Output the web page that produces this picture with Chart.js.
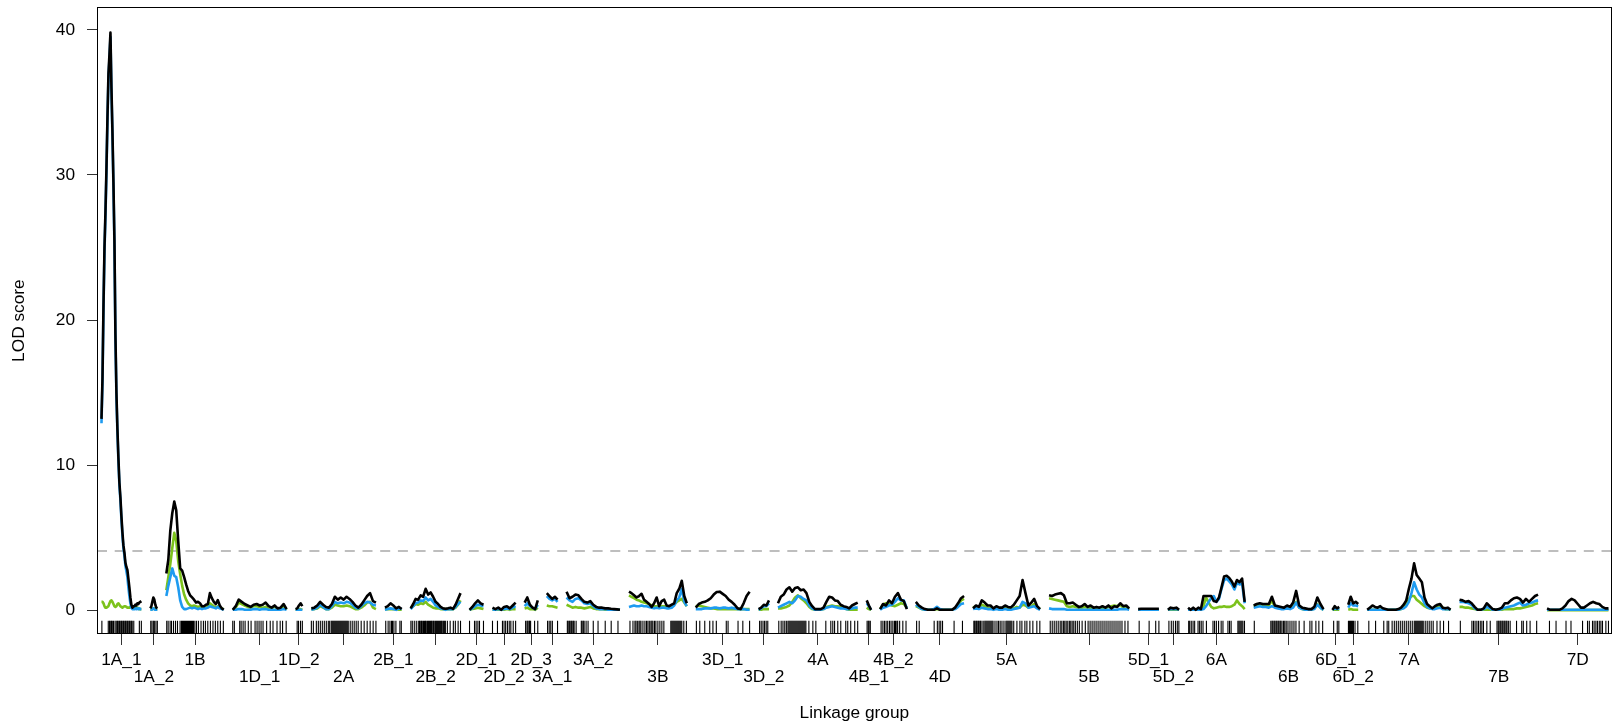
<!DOCTYPE html>
<html>
<head>
<meta charset="utf-8">
<title>LOD profile</title>
<script src="https://cdn.jsdelivr.net/npm/chart.js@4.4.1/dist/chart.umd.min.js"></script>
<style>
  html, body { margin: 0; padding: 0; background: #fff; }
  canvas { display: block; }
</style>
</head>
<body>
<canvas id="lodChart" width="1619" height="727"></canvas>
<script>
// Linkage groups in map order, with their lengths (cM)
const chromNames = ['1A_1', '1A_2', '1B', '1D_1', '1D_2', '2A', '2B_1', '2B_2', '2D_1', '2D_2', '2D_3',
  '3A_1', '3A_2', '3B', '3D_1', '3D_2', '4A', '4B_1', '4B_2', '4D', '5A', '5B', '5D_1', '5D_2',
  '6A', '6B', '6D_1', '6D_2', '7A', '7B', '7D'];
const chromLengths = [100, 17.5, 144, 135, 17, 162, 42, 125, 35, 58, 33, 27, 134, 145, 135, 26,
  200, 11, 67, 121, 168, 201, 52, 28, 142, 175, 17, 25, 209, 197, 154];
const CHROM_GAP = 22.6;

// LOD scans, evenly spaced along each linkage group
const lodBlack = [
  [13.2,16,21,25,27.5,30.5,34,37,38.3,39.8,36,33,29.5,25.5,19,15,12.5,10.5,8.8,7.8,6.5,5.4,4.5,4.0,3.3,3.0,2.8,2.2,1.6,0.9,0.4,0.2,0.3,0.3,0.4,0.35,0.5,0.45,0.55,0.6,0.65],
  [0.15,0.3,0.6,0.9,0.75,0.4,0.2,0.15],
  [2.55,3.5,5.5,6.7,7.5,6.9,4.8,2.9,2.75,2.3,1.8,1.35,1.05,0.9,0.75,0.55,0.6,0.5,0.3,0.3,0.4,0.45,1.2,0.85,0.6,0.45,0.72,0.35,0.15,0.05],
  [0.05,0.3,0.75,0.6,0.45,0.35,0.25,0.4,0.45,0.35,0.4,0.55,0.3,0.2,0.35,0.15,0.2,0.45,0.1],
  [0.1,0.15,0.35,0.5,0.3],
  [0.15,0.2,0.35,0.6,0.4,0.25,0.2,0.45,0.95,0.75,0.9,0.75,0.95,0.8,0.6,0.35,0.2,0.4,0.7,1.0,1.2,0.65,0.55],
  [0.2,0.3,0.5,0.35,0.15,0.25,0.1],
  [0.15,0.45,0.8,0.75,1.05,0.95,1.5,1.1,1.25,0.95,0.6,0.45,0.25,0.15,0.12,0.15,0.2,0.12,0.4,0.8,1.2],
  [0.05,0.25,0.5,0.7,0.5,0.4],
  [0.2,0.1,0.2,0.05,0.25,0.3,0.15,0.35,0.55],
  [0.55,0.9,0.4,0.2,0.1,0.7],
  [1.2,1.0,0.8,0.95,0.75],
  [1.3,0.85,0.95,1.1,1.05,0.8,0.6,0.55,0.65,0.4,0.25,0.2,0.2,0.15,0.15,0.12,0.1,0.08,0.05],
  [1.3,1.2,1.05,0.9,1.0,1.15,0.75,0.6,0.45,0.25,0.5,0.9,0.3,0.65,0.75,0.35,0.3,0.4,0.5,1.2,1.5,2.05,1.0,0.5],
  [0.2,0.45,0.55,0.6,0.7,0.85,1.1,1.28,1.3,1.15,1.0,0.75,0.6,0.4,0.15,0.1,0.5,1.0,1.3],
  [0.1,0.2,0.4,0.35,0.7],
  [0.5,0.95,1.1,1.45,1.6,1.3,1.55,1.6,1.4,1.45,1.2,0.6,0.3,0.1,0.1,0.1,0.2,0.6,0.95,0.9,0.7,0.65,0.4,0.3,0.25,0.15,0.35,0.45,0.55],
  [0.7,0.35,0.05],
  [0.1,0.45,0.35,0.7,0.5,0.95,1.2,0.75,0.65,0.1],
  [0.6,0.35,0.2,0.1,0.05,0.05,0.05,0.15,0.05,0.05,0.05,0.05,0.05,0.2,0.5,0.85,1.0],
  [0.15,0.35,0.25,0.7,0.55,0.35,0.35,0.15,0.3,0.2,0.2,0.35,0.25,0.22,0.4,0.7,1.0,2.1,1.2,0.35,0.55,0.8,0.3,0.1],
  [1.05,1.0,1.1,1.15,1.2,1.05,0.5,0.5,0.55,0.4,0.25,0.3,0.45,0.25,0.35,0.2,0.25,0.2,0.3,0.2,0.35,0.15,0.3,0.25,0.5,0.3,0.35,0.15],
  [0.1,0.12,0.12,0.12,0.12,0.12,0.12,0.12],
  [0.05,0.2,0.15,0.2,0.05],
  [0.2,0.05,0.2,0.05,0.2,0.1,1.0,1.0,1.0,1.0,0.65,0.6,0.9,1.6,2.35,2.4,2.25,2.0,1.65,2.1,1.95,2.2,0.6],
  [0.35,0.45,0.5,0.45,0.45,0.45,0.95,0.35,0.3,0.25,0.2,0.35,0.25,0.55,1.35,0.35,0.2,0.15,0.1,0.1,0.25,0.9,0.45,0.1],
  [0.05,0.3,0.15,0.25],
  [0.4,0.95,0.5,0.6,0.45],
  [0.05,0.2,0.35,0.25,0.2,0.3,0.15,0.1,0.05,0.05,0.05,0.05,0.1,0.2,0.4,0.7,1.5,2.2,3.25,2.45,2.2,1.95,0.9,0.45,0.3,0.15,0.3,0.4,0.45,0.2,0.15,0.2,0.05],
  [0.75,0.7,0.6,0.65,0.5,0.25,0.05,0.05,0.15,0.5,0.3,0.1,0.05,0.1,0.2,0.5,0.5,0.7,0.85,0.9,0.8,0.55,0.8,0.6,0.8,1.0,1.1],
  [0.15,0.05,0.05,0.05,0.05,0.15,0.35,0.65,0.8,0.7,0.45,0.2,0.2,0.35,0.5,0.6,0.5,0.45,0.25,0.15,0.15]
];

const lodBlue = [
  [12.9,15.7,20.7,24.7,27.2,30.2,33.7,36.7,38,39.5,35.7,32.7,29.2,25.2,18.7,14.7,12.3,10.3,8.6,7.6,6.3,5.2,4.3,3.8,3.1,2.7,2.3,1.6,1.0,0.5,0.2,0.1,0.1,0.1,0.15,0.1,0.15,0.1,0.15,0.1,0.1],
  [0.05,0.05,0.1,0.15,0.1,0.05,0.05,0.05],
  [1.0,1.7,2.3,2.9,2.4,2.3,1.6,0.7,0.25,0.1,0.1,0.15,0.2,0.15,0.2,0.15,0.1,0.15,0.1,0.15,0.15,0.2,0.3,0.25,0.2,0.15,0.25,0.15,0.1,0.05],
  [0.05,0.05,0.1,0.1,0.05,0.05,0.05,0.1,0.1,0.05,0.1,0.1,0.05,0.05,0.05,0.05,0.05,0.1,0.05],
  [0.05,0.05,0.05,0.05,0.05],
  [0.05,0.1,0.2,0.4,0.25,0.1,0.1,0.3,0.6,0.5,0.55,0.5,0.6,0.55,0.4,0.2,0.15,0.3,0.5,0.6,0.55,0.4,0.35],
  [0.05,0.1,0.15,0.1,0.05,0.15,0.1],
  [0.1,0.3,0.5,0.55,0.7,0.65,0.9,0.7,0.8,0.6,0.35,0.25,0.15,0.1,0.05,0.1,0.1,0.1,0.25,0.45,0.6],
  [0.05,0.15,0.3,0.4,0.35,0.3],
  [0.05,0.05,0.1,0.05,0.1,0.15,0.1,0.2,0.3],
  [0.3,0.5,0.3,0.2,0.1,0.4],
  [1.0,0.8,0.7,0.8,0.6],
  [0.9,0.7,0.6,0.8,0.85,0.7,0.5,0.45,0.5,0.3,0.15,0.1,0.1,0.1,0.05,0.05,0.05,0.05,0.05],
  [0.25,0.3,0.35,0.3,0.3,0.35,0.3,0.3,0.25,0.2,0.15,0.2,0.15,0.2,0.2,0.15,0.15,0.2,0.35,0.7,0.9,1.5,0.6,0.3],
  [0.1,0.1,0.1,0.15,0.15,0.15,0.2,0.2,0.15,0.2,0.2,0.15,0.2,0.15,0.1,0.1,0.1,0.05,0.05],
  [0.05,0.15,0.3,0.3,0.5],
  [0.2,0.3,0.4,0.5,0.6,0.5,0.7,1.0,0.95,0.8,0.7,0.35,0.15,0.05,0.05,0.05,0.1,0.2,0.25,0.3,0.25,0.2,0.15,0.15,0.1,0.1,0.15,0.2,0.2],
  [0.5,0.3,0.05],
  [0.05,0.2,0.25,0.35,0.4,0.6,0.85,0.7,0.7,0.15],
  [0.4,0.25,0.1,0.05,0.05,0.05,0.1,0.25,0.1,0.05,0.05,0.05,0.05,0.1,0.25,0.45,0.5],
  [0.1,0.15,0.1,0.2,0.15,0.1,0.1,0.05,0.1,0.05,0.05,0.1,0.05,0.05,0.1,0.15,0.2,0.6,0.5,0.2,0.25,0.3,0.15,0.05],
  [0.15,0.1,0.1,0.1,0.1,0.1,0.05,0.05,0.05,0.05,0.05,0.05,0.05,0.05,0.05,0.05,0.05,0.05,0.05,0.05,0.05,0.05,0.05,0.05,0.1,0.1,0.1,0.05],
  [0.05,0.05,0.05,0.05,0.05,0.05,0.05,0.05],
  [0.05,0.1,0.1,0.1,0.05],
  [0.05,0.05,0.05,0.05,0.05,0.05,0.1,0.3,0.6,0.85,1.0,0.6,0.8,1.5,2.1,2.2,2.0,1.8,1.45,1.9,1.8,1.85,0.5],
  [0.2,0.25,0.3,0.25,0.25,0.2,0.3,0.2,0.15,0.1,0.1,0.15,0.1,0.2,0.55,0.2,0.1,0.05,0.05,0.05,0.1,0.4,0.2,0.05],
  [0.05,0.15,0.1,0.15],
  [0.2,0.5,0.35,0.35,0.3],
  [0.05,0.05,0.05,0.05,0.05,0.05,0.05,0.05,0.05,0.05,0.05,0.05,0.05,0.1,0.15,0.3,0.6,1.2,1.95,1.45,1.1,0.9,0.5,0.25,0.15,0.1,0.1,0.15,0.2,0.1,0.1,0.1,0.05],
  [0.6,0.6,0.55,0.5,0.4,0.15,0.05,0.05,0.1,0.25,0.15,0.05,0.05,0.05,0.1,0.2,0.25,0.3,0.35,0.45,0.55,0.35,0.4,0.5,0.55,0.65,0.7],
  [0.05,0.05,0.05,0.05,0.05,0.05,0.05,0.05,0.05,0.05,0.05,0.05,0.05,0.05,0.05,0.05,0.05,0.05,0.05,0.05,0.05]
];

const lodGreen = [
  [0.6,0.6,0.5,0.3,0.2,0.2,0.25,0.3,0.5,0.65,0.7,0.6,0.45,0.3,0.25,0.3,0.45,0.5,0.4,0.3,0.25,0.2,0.25,0.3,0.3,0.25,0.2,0.2,0.2,0.25,0.3,0.3,0.3,0.3,0.25,0.2,0.2,0.15,0.1,0.1,0.1],
  [0.1,0.1,0.1,0.15,0.15,0.1,0.1,0.1],
  [1.4,2.3,3.2,4.3,5.35,4.8,3.4,2.5,1.7,1.1,0.75,0.5,0.35,0.3,0.35,0.3,0.25,0.3,0.2,0.25,0.2,0.3,0.5,0.4,0.3,0.2,0.3,0.2,0.15,0.1],
  [0.05,0.2,0.55,0.45,0.35,0.25,0.2,0.3,0.3,0.25,0.2,0.25,0.1,0.15,0.3,0.1,0.15,0.35,0.05],
  [0.05,0.05,0.1,0.1,0.05],
  [0.1,0.1,0.15,0.3,0.2,0.1,0.1,0.2,0.4,0.35,0.3,0.3,0.35,0.3,0.2,0.1,0.1,0.2,0.35,0.55,0.6,0.2,0.1],
  [0.1,0.1,0.1,0.1,0.1,0.05,0.05],
  [0.2,0.3,0.45,0.4,0.5,0.45,0.6,0.4,0.3,0.2,0.15,0.15,0.1,0.1,0.1,0.1,0.1,0.1,0.2,0.4,0.7],
  [0.05,0.1,0.15,0.2,0.15,0.1],
  [0.05,0.05,0.05,0.05,0.05,0.1,0.05,0.1,0.1],
  [0.15,0.2,0.1,0.1,0.05,0.2],
  [0.35,0.3,0.3,0.25,0.2],
  [0.4,0.3,0.2,0.25,0.2,0.2,0.15,0.2,0.25,0.15,0.1,0.1,0.1,0.05,0.05,0.05,0.05,0.05,0.05],
  [1.05,0.95,0.85,0.75,0.7,0.6,0.55,0.5,0.45,0.35,0.3,0.3,0.25,0.3,0.3,0.2,0.25,0.3,0.4,0.6,0.7,0.8,0.55,0.3],
  [0.3,0.35,0.3,0.25,0.2,0.15,0.15,0.1,0.1,0.1,0.1,0.1,0.1,0.1,0.1,0.1,0.1,0.1,0.1],
  [0.05,0.05,0.1,0.1,0.1],
  [0.15,0.15,0.2,0.25,0.35,0.6,0.9,1.05,0.85,0.7,0.5,0.25,0.1,0.05,0.05,0.05,0.1,0.25,0.3,0.35,0.3,0.3,0.25,0.2,0.1,0.05,0.05,0.05,0.05],
  [0.2,0.1,0.05],
  [0.1,0.4,0.5,0.45,0.35,0.3,0.4,0.5,0.45,0.2],
  [0.3,0.2,0.1,0.05,0.05,0.05,0.05,0.1,0.05,0.05,0.05,0.05,0.05,0.15,0.4,0.7,0.8],
  [0.2,0.3,0.2,0.4,0.3,0.2,0.15,0.1,0.15,0.1,0.1,0.15,0.1,0.1,0.15,0.25,0.2,0.4,0.35,0.2,0.3,0.45,0.25,0.1],
  [0.85,0.8,0.75,0.7,0.65,0.6,0.3,0.25,0.3,0.25,0.2,0.2,0.25,0.2,0.2,0.15,0.2,0.15,0.2,0.15,0.25,0.3,0.35,0.3,0.4,0.2,0.2,0.1],
  [0.05,0.05,0.05,0.05,0.05,0.05,0.05,0.05],
  [0.05,0.05,0.05,0.05,0.05],
  [0.05,0.05,0.05,0.05,0.05,0.05,0.3,0.9,0.55,0.25,0.15,0.2,0.25,0.25,0.3,0.25,0.25,0.3,0.4,0.7,0.45,0.3,0.1],
  [0.3,0.35,0.35,0.35,0.35,0.35,0.7,0.25,0.2,0.15,0.15,0.2,0.15,0.35,0.6,0.2,0.1,0.05,0.05,0.05,0.15,0.45,0.2,0.05],
  [0.05,0.05,0.05,0.05],
  [0.05,0.1,0.05,0.05,0.05],
  [0.05,0.05,0.05,0.05,0.05,0.05,0.05,0.05,0.05,0.05,0.05,0.05,0.05,0.1,0.2,0.4,0.8,1.0,1.0,0.75,0.6,0.45,0.3,0.2,0.15,0.15,0.2,0.3,0.35,0.2,0.1,0.1,0.05],
  [0.25,0.25,0.2,0.2,0.15,0.1,0.05,0.05,0.05,0.05,0.05,0.05,0.05,0.05,0.05,0.1,0.1,0.1,0.1,0.15,0.15,0.2,0.25,0.3,0.35,0.45,0.5],
  [0.03,0.03,0.03,0.03,0.03,0.03,0.03,0.03,0.03,0.03,0.03,0.03,0.03,0.03,0.03,0.03,0.03,0.03,0.03,0.03,0.03]
];

// Marker positions (cM from the start of each linkage group)
const markerOffsets = [
  [1,17,20,22,25,27,30,34,37,40,42,45,47,50,52,55,57,60,62,65,67,70,72,75,77,81,95,100],
  [1,4,7.5,10,14,17.5],
  [1,4.5,9.5,13,18,23,28,34.5,38,40.5,43,45.5,48,50.5,53,55.5,58,60.5,63,65.5,68,71.5,75.5,80.5,87,93,98,104,110.5,117,123,129,135.5,143],
  [0,4,17.5,21,26,31,39,46,56,61,66,71,76,85,94,101,111,119,125,134],
  [4,7.5,12.5,17],
  [0,5,12.5,17.5,22.5,27.5,32.5,37.5,42.5,46,50,52.5,55,57.5,60,62.5,65,67.5,70,72.5,75,77.5,80,82.5,85,87.5,90,92.5,97.5,102.5,107.5,112.5,117.5,125,132.5,140,147.5,155,162],
  [2,8,12.5,16.5,19,22.5,27.5,37.5,41],
  [0.5,4,9,14,19,22,24,27,29,32,34.5,37,39,42,44.5,47,49.5,52,54,57,59,62,64.5,67,69.5,72,74.5,77,79,82,84.5,87,92,99,107,112,119,125],
  [0,12.5,16.5,21,25,35],
  [0,12.5,25,29,33,37.5,42,46,52,58],
  [2.5,6,8,11,12.5,15,25,33],
  [2,6,10,14,27],
  [2,4,7,9,12,14,17,19,24,37,39,42,44,49,54,67,79,97,112,129],
  [2.5,10,15,17.5,21,25,27.5,30,35,40,44,47.5,51,55,57.5,60,64,67.5,72.5,77.5,82.5,87.5,105,107.5,110,112.5,115,117.5,120,122.5,125,127.5,130,132.5,137.5,144],
  [1.5,10,22.5,35,43,51.5,76.5,81,106,118,135],
  [2.5,6.5,11,15,19,23],
  [2,8,12.5,17,21,25,27.5,30,32.5,35,37.5,40,42.5,45,47.5,50,52.5,55,57.5,60,62.5,65,67.5,70,77.5,87.5,95,120,132.5,137.5,142,150,157.5,170,175,182.5,192.5,200],
  [1,4,6,9],
  [2.5,7,11,15,19,23.5,27.5,32,36,38.5,42,44,49,57,65],
  [2,8.5,46,54,58.5,62.5,67,96,117],
  [2,4,7,9,12,14,17,19,22.5,27,30,32.5,35,37.5,40,42.5,45,47.5,50,55,60,64,68,72.5,77.5,82.5,85,87.5,90,92.5,95,97.5,102,110,117.5,122.5,130,135,142.5,150,160,167.5],
  [3,8,13,18,23,28,32,36,39.5,43,47,51,54.5,58,62,66,71,76,83,91,98,103,108,113,118,123,128,133,138,143,148,153,158,163,168,173,178,183,190.5,198],
  [2.5,27.5,44,52],
  [2.5,8.5,13.5,19,23.5,27.5],
  [1.5,4,8,12.5,16.5,25,29,33,37.5,46,62.5,66.5,71,76.5,83,87.5,100,104,108,125,127.5,130,132.5,135,137.5,141.5],
  [1.5,43,46,48,51,53,56,58,61,63,66,68,71,75,78,81.5,86,91,96,101,106,114,126.5,141,146,156,163.5,173],
  [3,12,16],
  [0.5,3,5.5,8,10.5,13,17,24],
  [4,21,41.5,50,54,62.5,68,73,78,83,88,93,98,103,108,113,118,120.5,123,125.5,128,130.5,133,135.5,138,140.5,145.5,150.5,155.5,160.5,165.5,175,183,191.5,204],
  [2,31,35,39,43.5,47.5,52,56,60,68.5,77,94,97,99,102,104,107,109,112,114,117,119,122.5,127,143,156,160,168.5,177,193.5],
  [6,22.5,47.5,60,89,101.5,106,114,118,122.5,126.5,131,135,139,147.5,154]
];

const threshold = 4.1;
const yTickValues = [0, 10, 20, 30, 40];

// axis ranges
const X_MIN = -11.25, X_MAX = 3788.75;
const Y_MIN = -1.615, Y_MAX = 41.55;
const RUG_Y = -1.13;

const FONT = "'Liberation Sans', Arial, Helvetica, sans-serif";

// cumulative layout of linkage groups
const chromStart = [];
let cursor = 0;
chromLengths.forEach(len => {
  chromStart.push(cursor);
  cursor += len + CHROM_GAP;
});
const chromMid = chromStart.map((s, i) => s + chromLengths[i] / 2);

function buildCurve(scan) {
  const pts = [];
  scan.forEach((lods, c) => {
    const step = chromLengths[c] / (lods.length - 1);
    lods.forEach((v, i) => pts.push({ x: chromStart[c] + i * step, y: v }));
    // break the line between groups
    pts.push({ x: chromStart[c] + chromLengths[c] + CHROM_GAP / 2, y: null });
  });
  return pts;
}

const rugPoints = markerOffsets.flatMap((offs, c) =>
  offs.map(o => ({ x: chromStart[c] + o, y: RUG_Y })));

// black frame round the plotting region
const plotFrame = {
  id: 'plotFrame',
  afterDraw(chart) {
    const { ctx, chartArea: a } = chart;
    ctx.save();
    ctx.strokeStyle = '#000';
    ctx.lineWidth = 1;
    const x0 = Math.round(a.left) + 0.5, y0 = Math.round(a.top) + 0.5;
    const x1 = Math.round(a.right) - 0.5, y1 = Math.round(a.bottom) - 0.5;
    ctx.strokeRect(x0, y0, x1 - x0, y1 - y0);
    ctx.restore();
  }
};

// keep tick labels from pushing the plot area inwards
function noLabelPadding(scale) {
  scale.paddingTop = 0;
  scale.paddingBottom = 0;
  scale.paddingLeft = 0;
  scale.paddingRight = 0;
}

const ctx = document.getElementById('lodChart').getContext('2d');

new Chart(ctx, {
  type: 'line',
  data: {
    datasets: [
      {
        label: 'black',
        data: buildCurve(lodBlack),
        borderColor: '#000000',
        borderWidth: 2.6,
        order: 1
      },
      {
        label: 'blue',
        data: buildCurve(lodBlue),
        borderColor: '#1E9BF0',
        borderWidth: 2.6,
        order: 2
      },
      {
        label: 'green',
        data: buildCurve(lodGreen),
        borderColor: '#7CC21C',
        borderWidth: 2.6,
        order: 3
      },
      {
        label: 'threshold',
        data: [{ x: X_MIN, y: threshold }, { x: X_MAX, y: threshold }],
        borderColor: '#BEBEBE',
        borderWidth: 2,
        borderDash: [10, 7.7],
        order: 4
      },
      {
        label: 'markers',
        data: rugPoints,
        showLine: false,
        pointStyle: 'line',
        pointRotation: 90,
        pointRadius: 6.15,
        pointBorderWidth: 1.1,
        pointBorderColor: '#000000',
        borderColor: '#000000',
        order: 5
      }
    ]
  },
  options: {
    responsive: false,
    animation: false,
    devicePixelRatio: 1,
    spanGaps: false,
    elements: {
      point: { radius: 0, hoverRadius: 0 },
      line: { tension: 0, fill: false, borderJoinStyle: 'round', borderCapStyle: 'butt' }
    },
    layout: { padding: { top: 6, right: 1, left: 0, bottom: 0 } },
    plugins: {
      legend: { display: false },
      tooltip: { enabled: false }
    },
    scales: {
      x: {
        type: 'linear',
        min: X_MIN,
        max: X_MAX,
        afterBuildTicks: scale => {
          scale.ticks = chromMid.map(v => ({ value: v }));
        },
        afterFit: scale => {
          scale.height = 93;
          noLabelPadding(scale);
        },
        grid: { drawOnChartArea: false, drawTicks: true, tickLength: 11, tickColor: '#333', tickWidth: 1 },
        border: { display: false },
        ticks: {
          autoSkip: false,
          maxRotation: 0,
          minRotation: 0,
          padding: 6.5,
          color: '#000',
          font: { family: FONT, size: 17.3, lineHeight: 1.006 },
          callback: (value, index) => index % 2 ? ['', chromNames[index]] : chromNames[index]
        },
        title: {
          display: true,
          text: 'Linkage group',
          color: '#000',
          font: { family: FONT, size: 17.3 },
          padding: { top: 0, bottom: 3.8 }
        }
      },
      y: {
        min: Y_MIN,
        max: Y_MAX,
        afterBuildTicks: scale => {
          scale.ticks = yTickValues.map(v => ({ value: v }));
        },
        afterFit: scale => {
          scale.width = 97;
          noLabelPadding(scale);
        },
        grid: { drawOnChartArea: false, drawTicks: true, tickLength: 10, tickColor: '#333', tickWidth: 1 },
        border: { display: false },
        ticks: {
          padding: 12,
          color: '#000',
          font: { family: FONT, size: 17.3 },
          callback: value => String(value)
        },
        title: {
          display: true,
          text: 'LOD score',
          color: '#000',
          font: { family: FONT, size: 17.3 },
          padding: { top: 8.6, bottom: 0 }
        }
      }
    }
  },
  plugins: [plotFrame]
});
</script>
</body>
</html>
